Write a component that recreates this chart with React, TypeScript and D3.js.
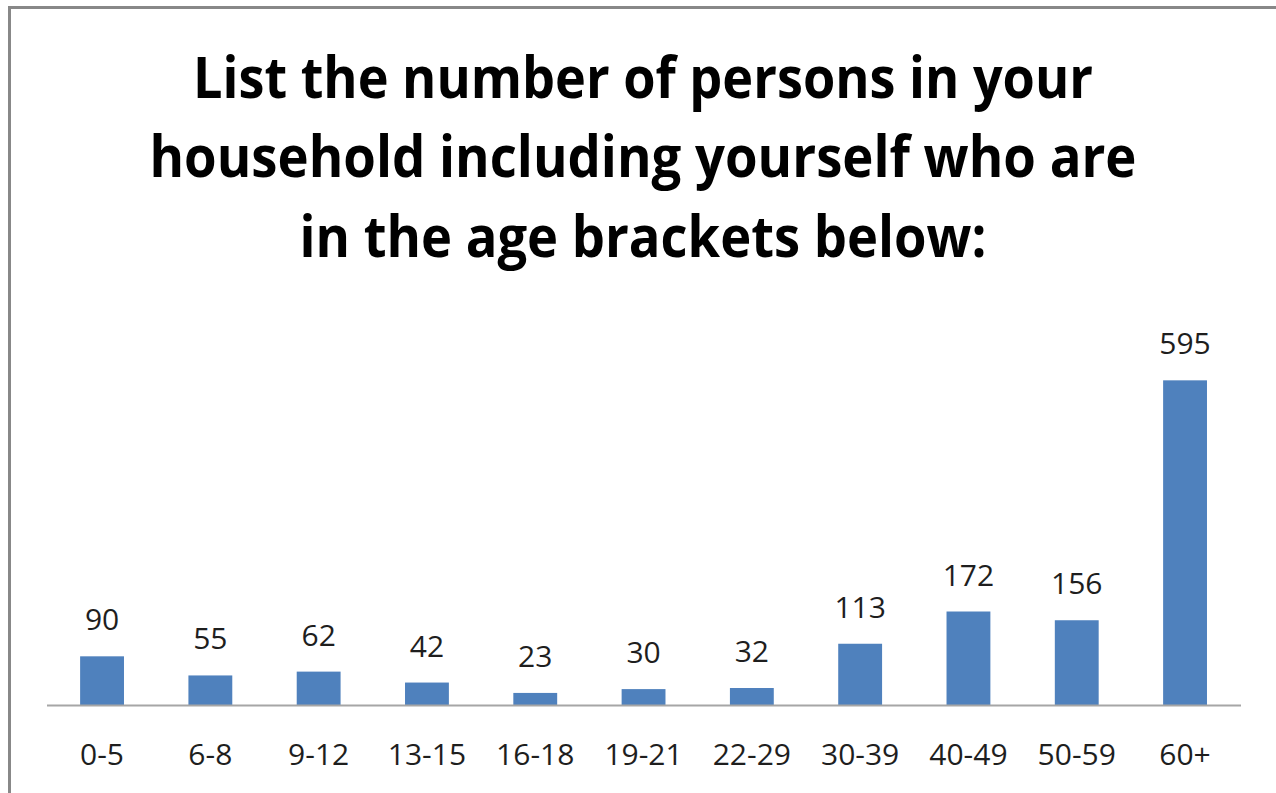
import React from "react";
import * as d3 from "d3";

const categories: string[] = ["0-5", "6-8", "9-12", "13-15", "16-18", "19-21", "22-29", "30-39", "40-49", "50-59", "60+"];
const values: number[] = [90, 55, 62, 42, 23, 30, 32, 113, 172, 156, 595];
const titleLines: string[] = [
  "List the number of persons in your",
  "household including yourself who are",
  "in the age brackets below:",
];

const W = 1276;
const H = 793;
const baseY = 705.5;
const axisX0 = 47;
const axisX1 = 1241;

export default function App() {
  const x = d3
    .scaleBand<string>()
    .domain(categories)
    .range([47.9, 1239.2])
    .paddingInner(0.595)
    .paddingOuter(0.2975);
  const y = d3.scaleLinear().domain([0, 700]).range([baseY, baseY - 700 * 0.5465]);

  const titleY = [98, 177, 257];
  const titleW = [900, 987, 687];
  const font = "'Open Sans', 'DejaVu Sans', sans-serif";

  return (
    <svg
      width={W}
      height={H}
      style={{ position: "absolute", left: 0, top: 0, background: "#fff" }}
      fontFamily={font}
    >
      <rect x={0} y={0} width={W} height={H} fill="#fff" />
      <rect x={9.5} y={7.5} width={W + 20} height={H + 20} fill="none" stroke="#888888" strokeWidth={3} />
      {titleLines.map((t, i) => (
        <text
          key={i}
          x={643}
          y={titleY[i]}
          textAnchor="middle"
          fontSize={58}
          fontWeight={700}
          fill="#000"
          textLength={titleW[i]}
          lengthAdjust="spacingAndGlyphs"
        >
          {t}
        </text>
      ))}
      {categories.map((c, i) => {
        const bx = x(c)!;
        const bw = x.bandwidth();
        const ty = y(values[i]);
        return (
          <g key={c}>
            <rect x={bx} y={ty} width={bw} height={baseY - ty} fill="#4f81bd" />
            <text x={bx + bw / 2} y={ty - 26} textAnchor="middle" fontSize={30} fill="#1e1e1e">
              {values[i]}
            </text>
            <text x={bx + bw / 2} y={765} textAnchor="middle" fontSize={30} fill="#1e1e1e">
              {c}
            </text>
          </g>
        );
      })}
      <line x1={axisX0} x2={axisX1} y1={baseY} y2={baseY} stroke="#a6a6a6" strokeWidth={2} />
    </svg>
  );
}
